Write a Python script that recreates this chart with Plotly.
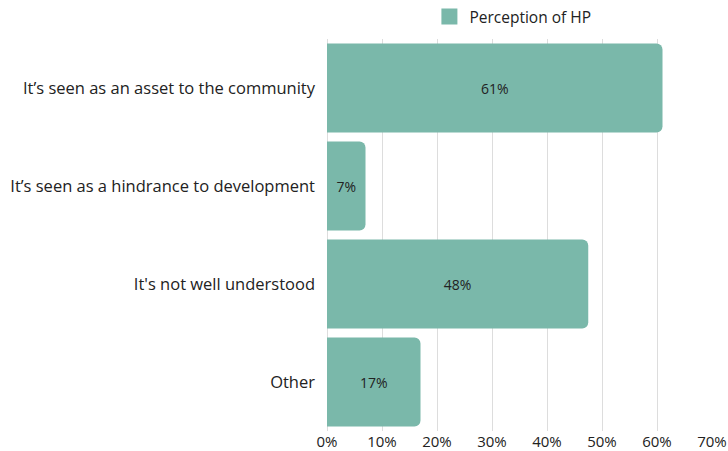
import plotly.graph_objects as go

categories = [
    "It’s seen as an asset to the community",
    "It’s seen as a hindrance to development",
    "It's not well understood",
    "Other",
]
values = [61, 7, 47.5, 17]
labels = ["61%", "7%", "48%", "17%"]
series_name = "Perception of HP"
x_ticks = [0, 10, 20, 30, 40, 50, 60, 70]
x_tick_text = ["0%", "10%", "20%", "30%", "40%", "50%", "60%", "70%"]

teal = "#7ab8aa"
font_family = "Open Sans, sans-serif"
text_color = "#222222"

fig = go.Figure()
fig.add_trace(go.Bar(
    y=categories,
    x=values,
    orientation="h",
    marker=dict(color=teal, line=dict(width=0)),
    text=labels,
    textposition="inside",
    insidetextanchor="middle",
    textfont=dict(family=font_family, size=14, color=text_color),
    showlegend=False,
    hoverinfo="skip",
))
# Legend entry with a larger square swatch
fig.add_trace(go.Scatter(
    x=[None], y=[None],
    mode="markers",
    marker=dict(symbol="square", size=18, color=teal),
    name=series_name,
    showlegend=True,
))

fig.update_layout(
    width=728, height=451,
    margin=dict(l=327, r=16, t=39, b=20, autoexpand=False),
    paper_bgcolor="white",
    plot_bgcolor="white",
    font=dict(family=font_family, size=14, color=text_color),
    bargap=0.09,
    barcornerradius=6,
    legend=dict(
        orientation="h",
        x=0.266, xanchor="left",
        y=1.013, yanchor="bottom",
        font=dict(family=font_family, size=15.5, color=text_color),
        bgcolor="rgba(0,0,0,0)",
    ),
    xaxis=dict(
        range=[0, 70],
        tickvals=x_ticks,
        ticktext=x_tick_text,
        showgrid=True,
        gridcolor="#dddddd",
        gridwidth=1,
        zeroline=True,
        zerolinecolor="#dddddd",
        zerolinewidth=1,
        showline=False,
        ticks="",
        automargin=False,
        tickfont=dict(family=font_family, size=15, color=text_color),
        fixedrange=True,
    ),
    yaxis=dict(
        autorange="reversed",
        categoryorder="array",
        categoryarray=categories,
        showgrid=False,
        ticks="",
        ticklabelstandoff=11,
        automargin=False,
        tickfont=dict(family=font_family, size=16.5, color=text_color),
        showline=False,
    ),
)

fig.write_html("out.html")
